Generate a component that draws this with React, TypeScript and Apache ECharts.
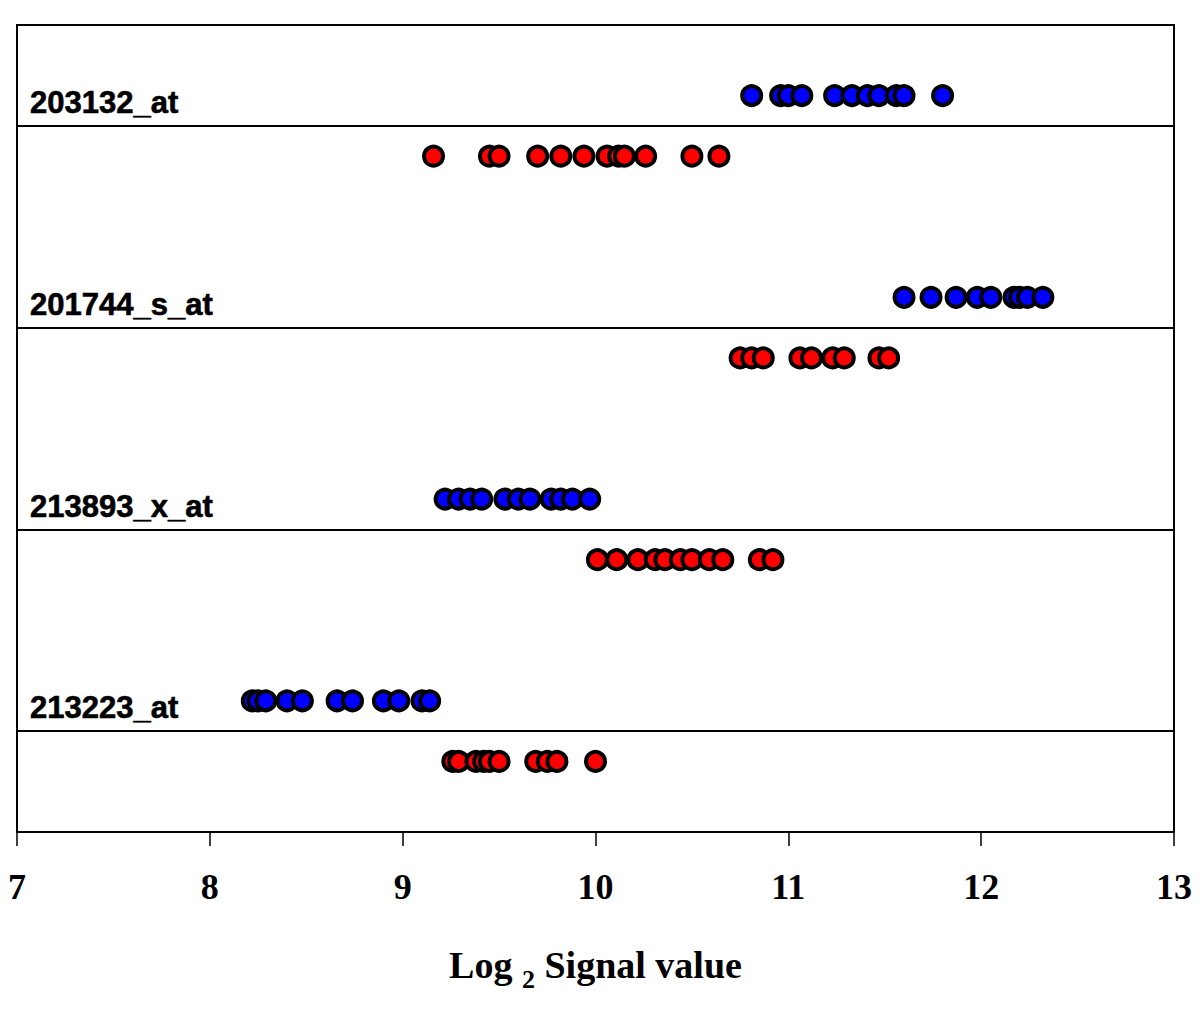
import React, { useEffect, useRef } from "react";
import * as echarts from "echarts";

const probes = ["203132_at", "201744_s_at", "213893_x_at", "213223_at"];

const blueValues = [
  [10.81, 10.96, 11.0, 11.07, 11.24, 11.33, 11.41, 11.47, 11.56, 11.6, 11.8],
  [11.6, 11.74, 11.87, 11.98, 12.05, 12.17, 12.2, 12.24, 12.32],
  [9.22, 9.29, 9.35, 9.41, 9.53, 9.6, 9.66, 9.77, 9.82, 9.88, 9.97],
  [8.22, 8.25, 8.29, 8.4, 8.48, 8.66, 8.74, 8.9, 8.98, 9.1, 9.14],
];

const redValues = [
  [9.16, 9.45, 9.5, 9.7, 9.82, 9.94, 10.06, 10.12, 10.15, 10.26, 10.5, 10.64],
  [10.75, 10.81, 10.87, 11.06, 11.12, 11.23, 11.29, 11.47, 11.52],
  [10.01, 10.11, 10.22, 10.31, 10.36, 10.44, 10.5, 10.59, 10.66, 10.85, 10.92],
  [9.26, 9.29, 9.38, 9.42, 9.45, 9.5, 9.69, 9.75, 9.8, 10.0],
];

const xTicks = [7, 8, 9, 10, 11, 12, 13];

export default function App() {
  const ref = useRef<HTMLDivElement>(null);
  useEffect(() => {
    if (!ref.current) return;
    const chart = echarts.init(ref.current, null, { renderer: "svg" });
    const rowY = (i: number) => 7 - 2 * i;
    const blueData: number[][] = [];
    const redData: number[][] = [];
    blueValues.forEach((arr, i) => arr.forEach((v) => blueData.push([v, rowY(i) + 0.3])));
    redValues.forEach((arr, i) => arr.forEach((v) => redData.push([v, rowY(i) - 0.3])));
    const labelData = probes.map((p, i) => ({ name: p, value: [xTicks[0], rowY(i) + 0.23] }));
    const lines = probes.map((_, i) => ({ yAxis: rowY(i) }));
    const serif = "'Liberation Serif', 'Times New Roman', serif";
    const dotStyle = (color: string) => ({
      color,
      borderColor: "#000",
      borderWidth: 4,
      opacity: 1,
    });
    chart.setOption({
      animation: false,
      grid: {
        left: 17,
        right: 26,
        top: 25,
        bottom: 177,
        show: true,
        borderColor: "#000",
        borderWidth: 2,
        backgroundColor: "transparent",
      },
      xAxis: {
        type: "value",
        min: 7,
        max: 13,
        interval: 1,
        splitLine: { show: false },
        axisLine: { show: true, onZero: false, lineStyle: { color: "#000", width: 2 } },
        axisTick: { show: true, length: 14, lineStyle: { color: "#000", width: 1.5 } },
        axisLabel: {
          margin: 37,
          color: "#000",
          fontFamily: serif,
          fontWeight: "bold",
          fontSize: 36,
        },
        name: "{a|Log }{s|2}{a| Signal value}",
        nameLocation: "middle",
        nameGap: 106,
        nameTextStyle: {
          rich: {
            a: {
              fontFamily: serif,
              fontWeight: "bold",
              fontSize: 38,
              color: "#000",
            },
            s: {
              fontFamily: serif,
              fontWeight: "bold",
              fontSize: 26,
              color: "#000",
              padding: [28, 0, 0, 0],
            },
          },
        },
      },
      yAxis: {
        type: "value",
        min: 0,
        max: 8,
        show: false,
        splitLine: { show: false },
      },
      series: [
        {
          type: "scatter",
          name: "sep",
          data: [],
          silent: true,
          markLine: {
            silent: true,
            symbol: ["none", "none"],
            label: { show: false },
            lineStyle: { color: "#000", width: 2, type: "solid" },
            data: lines,
          },
        },
        {
          type: "scatter",
          name: "red",
          data: redData,
          symbol: "circle",
          symbolSize: 19,
          itemStyle: dotStyle("#ff0000"),
        },
        {
          type: "scatter",
          name: "blue",
          data: blueData,
          symbol: "circle",
          symbolSize: 19,
          itemStyle: dotStyle("#0000ff"),
        },
        {
          type: "scatter",
          name: "labels",
          data: labelData,
          symbolSize: 0,
          silent: true,
          itemStyle: { color: "#000", opacity: 1 },
          label: {
            show: true,
            position: "right",
            distance: 13,
            formatter: "{b}",
            color: "#000000",
            opacity: 1,
            textBorderColor: "#000000",
            textBorderWidth: 0.6,
            fontFamily: "'Liberation Sans', Arial, sans-serif",
            fontWeight: "bold",
            fontSize: 31,
          },
        },
      ],
    });
    return () => chart.dispose();
  }, []);
  return (
    <div
      ref={ref}
      style={{ position: "fixed", left: 0, top: 0, width: 1200, height: 1009, background: "#fff" }}
    />
  );
}
